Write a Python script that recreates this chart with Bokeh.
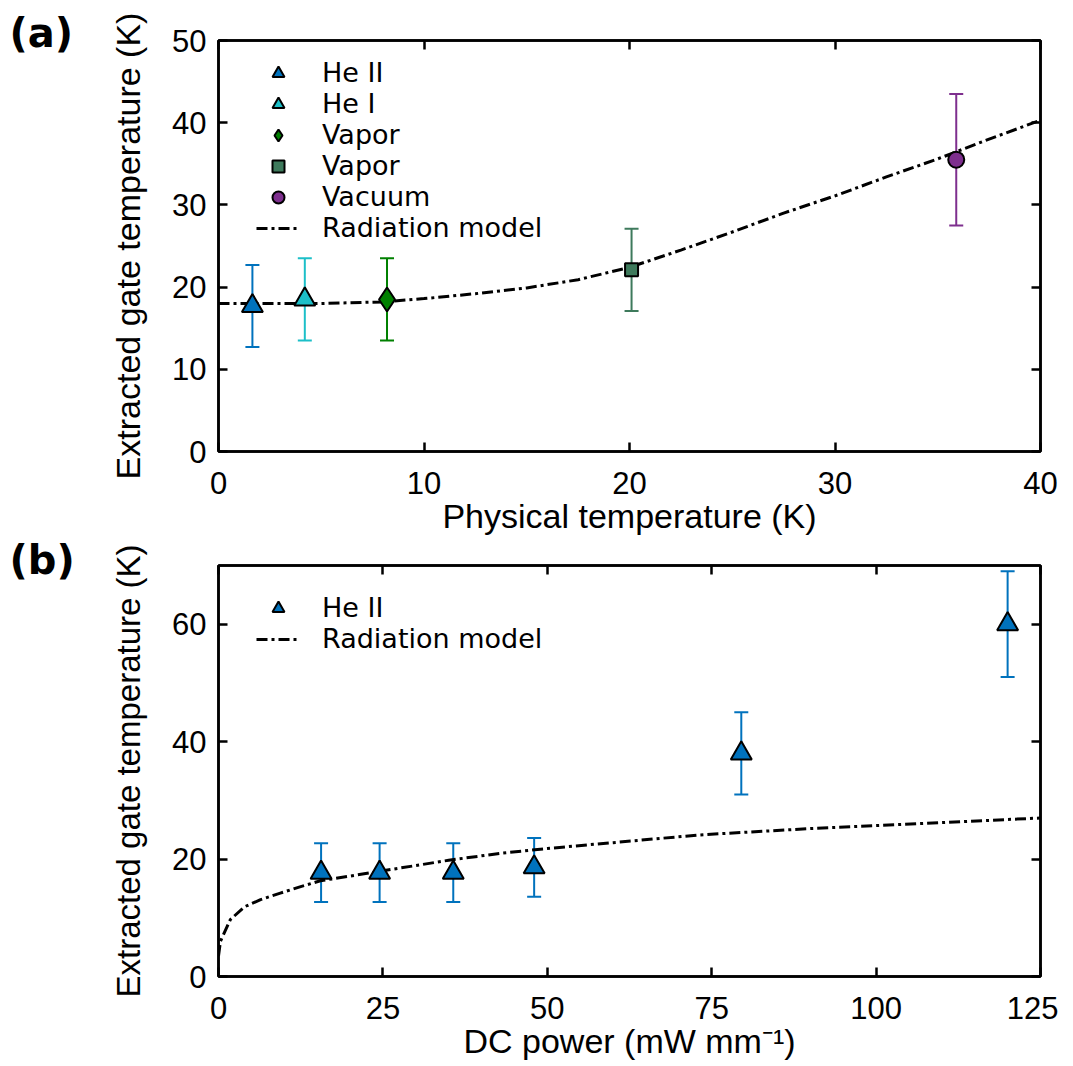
from bokeh.plotting import figure
from bokeh.models import (Whisker, TeeHead, ColumnDataSource, Legend, LegendItem,
                          LinearAxis, FixedTicker, Title, Range1d)
from bokeh.layouts import column
from bokeh.embed import file_html
from bokeh.resources import INLINE

# ---------------- data: panel (a) ----------------
a_heII_x = [1.65]; a_heII_y = [17.7]; a_heII_err = [5.0]
a_heI_x = [4.2]; a_heI_y = [18.5]; a_heI_err = [5.0]
a_vapd_x = [8.2]; a_vapd_y = [18.5]; a_vapd_err = [5.0]
a_vaps_x = [20.1]; a_vaps_y = [22.1]; a_vaps_err = [5.0]
a_vac_x = [35.9]; a_vac_y = [35.5]; a_vac_err = [8.0]
a_model_x = [0, 5, 8, 10, 12.5, 15, 17.5, 20, 22.5, 25, 27.5, 30, 32.5, 35, 37.5, 40]
a_model_y = [18.0, 18.0, 18.2, 18.6, 19.2, 19.9, 20.9, 22.4, 24.5, 26.7, 29.0, 31.1, 33.4, 35.6, 38.0, 40.3]
a_xticks = [0, 10, 20, 30, 40]
a_yticks = [0, 10, 20, 30, 40, 50]

# ---------------- data: panel (b) ----------------
b_x = [15.6, 24.5, 35.7, 48.0, 79.5, 120.0]
b_y = [17.7, 17.7, 17.7, 18.6, 38.0, 60.0]
b_err = [5.0, 5.0, 5.0, 5.0, 7.0, 9.0]
b_model_x = [0, 0.3, 1.8, 4, 6.4, 9.4, 12.5, 15.5, 25, 35, 43, 50, 60, 73, 90, 104, 125]
b_model_y = [3.5, 6.0, 9.7, 11.9, 13.1, 14.2, 15.3, 16.3, 18.0, 19.8, 21.0, 21.8, 22.8, 24.1, 25.2, 25.9, 27.0]
b_xticks = [0, 25, 50, 75, 100, 125]
b_yticks = [0, 20, 40, 60]

C_HEII = "#0072BD"
C_HEI = "#1CBFC8"
C_VAPD = "#008000"
C_VAPS = "#3E7A5C"
C_VAC = "#7E2F8E"

TICK_FONT = "Liberation Sans"
TICK_SIZE = "31px"


def style(p, xticks, yticks, ylabel_size):
    p.grid.visible = False
    p.outline_line_color = "black"
    p.outline_line_width = 2.5
    p.xaxis.ticker = FixedTicker(ticks=xticks)
    p.yaxis.ticker = FixedTicker(ticks=yticks)
    for ax in [p.xaxis[0], p.yaxis[0]]:
        ax.axis_line_width = 2.5
        ax.major_tick_line_width = 2.5
        ax.major_tick_in = 9
        ax.major_tick_out = 0
        ax.minor_tick_line_color = None
        ax.major_label_text_font = TICK_FONT
        ax.major_label_text_font_size = TICK_SIZE
        ax.major_label_text_color = "black"
        ax.axis_label_text_font = TICK_FONT
        ax.axis_label_text_font_size = "34px"
        ax.axis_label_text_font_style = "normal"
        ax.axis_label_text_color = "black"
    p.yaxis.axis_label_text_font_size = ylabel_size
    p.xaxis.major_label_standoff = 20
    p.xaxis.axis_label_standoff = 0
    p.yaxis.major_label_standoff = 12
    p.yaxis.axis_label_standoff = 22
    # mirrored ticks on right and top (no labels)
    for loc, ticks in (("right", yticks), ("above", xticks)):
        ax = LinearAxis(ticker=FixedTicker(ticks=ticks))
        ax.major_label_overrides = {t: "" for t in ticks}
        ax.major_label_text_font_size = "0px"
        ax.major_label_standoff = 0
        ax.axis_line_width = 2.5
        ax.major_tick_line_width = 2.5
        ax.major_tick_in = 9
        ax.major_tick_out = 0
        ax.minor_tick_line_color = None
        p.add_layout(ax, loc)


def errbars(p, xs, ys, errs, color, cap=14):
    src = ColumnDataSource(dict(x=xs, lo=[y - e for y, e in zip(ys, errs)],
                                hi=[y + e for y, e in zip(ys, errs)]))
    w = Whisker(base="x", upper="hi", lower="lo", source=src, dimension="height",
                line_color=color, line_width=2,
                upper_head=TeeHead(size=cap, line_color=color, line_width=2),
                lower_head=TeeHead(size=cap, line_color=color, line_width=2))
    p.add_layout(w)


def panel_title(text, standoff):
    return Title(text=text, align="left", offset=-209, standoff=standoff,
                 vertical_align="top", text_font="DejaVu Sans", text_font_size="40px",
                 text_font_style="bold", text_color="black")


# ---------------- panel (a) ----------------
HA = 537
pa = figure(width=1058, height=HA, output_backend="svg", toolbar_location=None,
            x_range=Range1d(0, 40), y_range=Range1d(0, 50),
            min_border_left=218, min_border_right=18, min_border_top=40, min_border_bottom=HA - 452,
            x_axis_label="Physical temperature (K)",
            y_axis_label="Extracted gate temperature (K)")
pa.title = panel_title("(a)", -34)
style(pa, a_xticks, a_yticks, "34px")

errbars(pa, a_heII_x, a_heII_y, a_heII_err, C_HEII)
errbars(pa, a_heI_x, a_heI_y, a_heI_err, C_HEI)
errbars(pa, a_vapd_x, a_vapd_y, a_vapd_err, C_VAPD)
errbars(pa, a_vaps_x, a_vaps_y, a_vaps_err, C_VAPS)
errbars(pa, a_vac_x, a_vac_y, a_vac_err, C_VAC)

ra_model = pa.line(a_model_x, a_model_y, line_color="black", line_width=3, line_dash="11 4 3 4")
ra1 = pa.scatter(a_heII_x, a_heII_y, marker="triangle", size=21, fill_color=C_HEII,
                 line_color="black", line_width=2)
ra2 = pa.scatter(a_heI_x, a_heI_y, marker="triangle", size=21, fill_color=C_HEI,
                 line_color="black", line_width=2)
ra3 = pa.scatter(a_vapd_x, a_vapd_y, marker="diamond", size=24, fill_color=C_VAPD,
                 line_color="black", line_width=2)
ra4 = pa.scatter(a_vaps_x, a_vaps_y, marker="square", size=13, fill_color=C_VAPS,
                 line_color="black", line_width=2)
ra5 = pa.scatter(a_vac_x, a_vac_y, marker="circle", size=16, fill_color=C_VAC,
                 line_color="black", line_width=2)

leg_a = Legend(items=[LegendItem(label="He II", renderers=[ra1]),
                      LegendItem(label="He I", renderers=[ra2]),
                      LegendItem(label="Vapor", renderers=[ra3]),
                      LegendItem(label="Vapor", renderers=[ra4]),
                      LegendItem(label="Vacuum", renderers=[ra5]),
                      LegendItem(label="Radiation model", renderers=[ra_model])],
               location=(38, 208))
pa.add_layout(leg_a, "center")

# ---------------- panel (b) ----------------
HB = 525
pb = figure(width=1058, height=HB, output_backend="svg", toolbar_location=None,
            x_range=Range1d(0, 125), y_range=Range1d(0, 70),
            min_border_left=218, min_border_right=18, min_border_top=565 - HA,
            min_border_bottom=HA + HB - 977,
            x_axis_label="DC power (mW mm\u207b\u00b9)",
            y_axis_label="Extracted gate temperature (K)")
pb.title = panel_title("(b)", -38)
style(pb, b_xticks, b_yticks, "33px")

errbars(pb, b_x, b_y, b_err, C_HEII)
rb_model = pb.line(b_model_x, b_model_y, line_color="black", line_width=3, line_dash="11 4 3 4")
rb1 = pb.scatter(b_x, b_y, marker="triangle", size=21, fill_color=C_HEII,
                 line_color="black", line_width=2)

leg_b = Legend(items=[LegendItem(label="He II", renderers=[rb1]),
                      LegendItem(label="Radiation model", renderers=[rb_model])],
               location=(38, 322))
pb.add_layout(leg_b, "center")

for lg in (leg_a, leg_b):
    lg.border_line_color = None
    lg.background_fill_alpha = 0
    lg.padding = 0
    lg.margin = 0
    lg.spacing = 0
    lg.label_height = 30
    lg.glyph_height = 30
    lg.glyph_width = 44
    lg.label_standoff = 22
    lg.label_text_font = "DejaVu Sans"
    lg.label_text_font_size = "27px"
    lg.label_text_color = "black"

page = column(pa, pb)
open("out.html", "w").write(file_html(page, INLINE))
